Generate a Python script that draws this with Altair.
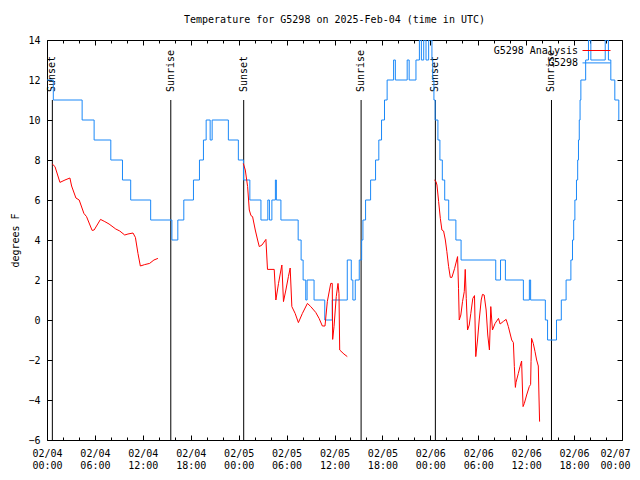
import altair as alt
import pandas as pd

TITLE = "Temperature for G5298 on 2025-Feb-04 (time in UTC)"
FONT = "DejaVu Sans Mono"

# hours since 2025-02-04 00:00 UTC
obs_hours = [0.0, 0.79, 4.40, 5.90, 7.99, 9.45, 10.48, 12.98, 15.64, 16.38, 17.13, 18.34,
             19.09, 19.59, 19.93, 20.43, 20.68, 22.71, 23.96, 24.6, 25.4, 26.79, 27.65, 27.85,
             28.16, 28.6, 28.72, 29.29, 31.45, 31.82, 32.07, 32.4, 32.57, 33.44, 34.78, 35.72,
             37.6, 38.1, 38.3, 38.6, 39.1, 39.4, 39.56, 39.89, 40.52, 41.14, 41.55, 41.89,
             42.26, 42.59, 43.4, 43.62, 45.1, 45.35, 46.2, 46.63, 46.88, 47.17, 47.46, 47.79,
             48.2, 48.3, 48.45, 48.6, 48.95, 49.2, 49.5, 49.8, 50.3, 51.2, 51.85, 56.19,
             56.79, 57.4, 59.65, 60.4, 60.56, 62.4, 62.68, 63.8, 64.4, 65.0, 65.6, 65.8,
             65.95, 66.1, 66.3, 66.45, 66.55, 66.65, 66.75, 66.85, 67.45, 67.8, 68.1, 69.9,
             70.3, 70.6, 71.1, 71.6]
obs_temp = [12, 11, 10, 9, 8, 7, 6, 5, 4, 5, 6, 7,
            8, 9, 10, 9, 10, 9, 8, 7, 6, 5, 6, 5,
            6, 7, 6, 5, 4, 3, 2, 1, 2, 1, 0, 1,
            3, 2, 1, 2, 3, 4, 5, 6, 7, 8, 9, 10,
            11, 12, 13, 12, 13, 12, 13, 14, 13, 14, 13, 14,
            13, 12, 11, 10, 9, 8, 7, 6, 5, 4, 3, 2,
            3, 2, 1, 2, 1, 0, -1, 0, 1, 2, 3, 4,
            5, 6, 7, 8, 9, 10, 11, 12, 13, 14, 13, 14,
            13, 12, 11, 10]

an1_hours = [0.66, 1.00, 1.62, 2.25, 2.87, 3.08, 3.62, 4.03, 4.62, 4.95, 5.65, 5.90, 6.70,
             7.24, 7.77, 8.61, 9.11, 9.73, 10.14, 10.77, 11.07, 11.39, 11.69, 12.23, 12.85,
             13.39, 13.89]
an1_temp = [7.8, 7.67, 6.88, 7.0, 7.1, 6.7, 6.1, 6.0, 5.33, 5.17, 4.48, 4.5, 5.03,
            4.92, 4.8, 4.55, 4.45, 4.25, 4.3, 4.35, 4.13, 3.33, 2.7, 2.77, 2.83,
            3.0, 3.08]

an2_hours = [24.58, 24.83, 25.12, 25.33, 25.54, 25.74, 26.08, 26.37, 26.58, 26.92,
             27.41, 27.61, 28.45, 28.66, 28.99, 29.29, 29.41, 29.61, 29.91, 30.23,
             30.45, 30.66, 31.07, 31.48, 31.98, 32.61, 33.03, 33.65, 34.07, 34.48,
             34.81, 35.10, 35.53, 35.72, 35.77, 35.94, 36.22, 36.44, 36.56, 36.65,
             37.18, 37.60]
an2_temp = [7.83, 7.5, 6.67, 5.5, 5.22, 5.17, 4.5, 4.0, 3.67, 3.75,
            4.03, 2.53, 2.53, 1.0, 1.83, 2.5, 2.75, 0.92, 1.5, 2.17,
            2.6, 0.67, 0.33, -0.13, 0.33, 0.83, 0.67, 0.38, 0.08, -0.3,
            -0.3, 0.92, 1.83, 1.83, -0.97, -0.33, 1.17, 1.83, 1.33, -1.5,
            -1.7, -1.83]

an3_hours = [48.50, 48.70, 48.83, 49.04, 49.25, 49.45, 49.66, 49.88, 50.07, 50.29,
             50.50, 50.70, 51.04, 51.41, 51.53, 51.62, 51.82, 52.03, 52.25, 52.37,
             52.50, 52.66, 52.87, 53.07, 53.32, 53.53, 53.69, 53.91, 54.12, 54.37,
             54.53, 54.74, 54.99, 55.19, 55.40, 55.57, 55.78, 56.11, 56.53, 56.74,
             57.15, 57.49, 57.77, 58.19, 58.40, 58.52, 58.65, 58.73, 59.02, 59.23,
             59.43, 59.52, 59.61, 59.77, 60.06, 60.39, 60.56, 60.61, 60.68, 60.89,
             61.11, 61.31, 61.52, 61.60, 61.68]
an3_temp = [7.0, 6.93, 6.75, 5.92, 5.08, 4.5, 4.45, 4.0, 3.42, 2.67,
            2.13, 2.13, 2.58, 3.17, 1.58, 0.0, 0.25, 0.92, 1.42, 2.53,
            1.08, -0.5, -0.25, 0.33, 1.08, 1.22, -1.83, -1.0, 0.0, 1.0,
            1.28, 1.25, 0.5, -0.75, -1.5, 0.67, -0.5, -0.17, 0.08, -0.2,
            -0.07, 0.03, -0.33, -1.0, -1.13, -2.33, -3.37, -3.12, -2.67, -2.33,
            -2.05, -3.25, -4.33, -4.17, -3.75, -3.33, -3.22, -2.08, -0.92, -1.17,
            -1.58, -2.0, -2.3, -3.75, -5.08]

sun_hours = [0.67, 15.5, 24.63, 39.33, 48.63, 63.17]
sun_labels = ["Sunset", "Sunrise", "Sunset", "Sunrise", "Sunset", "Sunrise"]

series_names = ["G5298 Analysis", "G5298"]
series_colors = ["#ff0000", "#1a88f8"]

x_major = list(range(0, 73, 6))
x_minor = list(range(0, 73, 2))
y_ticks = list(range(-6, 15, 2))

obs_df = pd.DataFrame({"hour": obs_hours, "temp": obs_temp, "series": "G5298"})
an_df = pd.concat([
    pd.DataFrame({"hour": h, "temp": t, "seg": i, "series": "G5298 Analysis"})
    for i, (h, t) in enumerate([(an1_hours, an1_temp), (an2_hours, an2_temp), (an3_hours, an3_temp)])
])
sun_df = pd.DataFrame({"hour": sun_hours, "label": sun_labels})

W, H = 575, 400
xscale = alt.Scale(domain=[0, 72], nice=False, zero=False)
yscale = alt.Scale(domain=[-6, 14], nice=False, zero=False)
cscale = alt.Scale(domain=series_names, range=series_colors)

label_expr = ("['02/0' + (4 + floor(datum.value / 24)), "
              "(datum.value % 24 < 10 ? '0' : '') + (datum.value % 24) + ':00']")
minor_size = {"condition": {"test": "datum.value % 6 === 0", "value": 5}, "value": 3}
last_label_shift = {"condition": {"test": "datum.value === 72", "value": -7}, "value": 0}


def tick_axis(orient, offset, values, size):
    return alt.Axis(orient=orient, offset=offset, values=values, tickSize=size,
                    labels=False, domain=False, grid=False, title=None,
                    tickColor="black", tickWidth=1)


rules = alt.Chart(sun_df).mark_rule(color="black", strokeWidth=1).encode(
    x=alt.X("hour:Q", scale=xscale, axis=tick_axis("bottom", -H, x_minor, minor_size)),
    y=alt.Y(datum=11, scale=yscale, axis=tick_axis("left", -W, y_ticks, 5)),
    y2=alt.Y2(datum=-6),
)

texts = alt.Chart(sun_df).mark_text(angle=270, align="left", baseline="middle",
                                    font=FONT, fontSize=10, color="black").encode(
    x=alt.X("hour:Q", scale=xscale, axis=None),
    y=alt.Y(datum=11.4, scale=yscale, axis=None),
    text="label:N",
)

blue = alt.Chart(obs_df).mark_line(interpolate="step-after", strokeWidth=1, clip=True).encode(
    x=alt.X("hour:Q", scale=xscale,
            axis=alt.Axis(orient="bottom", values=x_major, labelExpr=label_expr,
                          ticks=False, tickSize=0, domain=False, grid=False, title=None,
                          labelPadding=8, labelLineHeight=12, labelAngle=0,
                          labelOffset=last_label_shift,
                          labelFlush=False, labelOverlap=False, labelFont=FONT,
                          labelFontSize=10, labelColor="black")),
    y=alt.Y("temp:Q", scale=yscale,
            axis=alt.Axis(orient="left", values=y_ticks, ticks=False, tickSize=0,
                          domain=False, grid=False, title="degrees F", titlePadding=7,
                          labelPadding=7, labelFont=FONT, labelFontSize=10,
                          labelColor="black", titleFont=FONT, titleFontSize=10,
                          titleFontWeight="normal", titleColor="black")),
    color=alt.Color("series:N", scale=cscale,
                    legend=alt.Legend(title=None, orient="none", legendX=544.5, legendY=5.5,
                                      symbolType="M-4,0H4", symbolSize=49,
                                      symbolStrokeWidth=1, labelAlign="right",
                                      labelOffset={"expr": "-23.5"}, labelFont=FONT,
                                      labelFontSize=10, labelColor="black", padding=0,
                                      rowPadding=2.4, labelLimit=300)),
)

red = alt.Chart(an_df).mark_line(strokeWidth=1, clip=True).encode(
    x=alt.X("hour:Q", scale=xscale, axis=tick_axis("top", -H, x_minor, minor_size)),
    y=alt.Y("temp:Q", scale=yscale, axis=tick_axis("right", -W, y_ticks, 5)),
    color=alt.Color("series:N", scale=cscale),
    detail="seg:N",
)

chart = alt.layer(rules, texts, blue, red).resolve_axis(
    x="independent", y="independent"
).properties(
    width=W, height=H,
    autosize=alt.AutoSizeParams(type="none"),
    padding={"left": 39, "top": 32, "right": 10, "bottom": 30},
    title=alt.TitleParams(TITLE, font=FONT, fontSize=10, fontWeight="normal",
                          color="black", offset=10, anchor="middle"),
    background="white",
).configure_view(stroke="black", strokeWidth=1)

chart.save("out.html", embed_options={"renderer": "svg", "actions": False})
